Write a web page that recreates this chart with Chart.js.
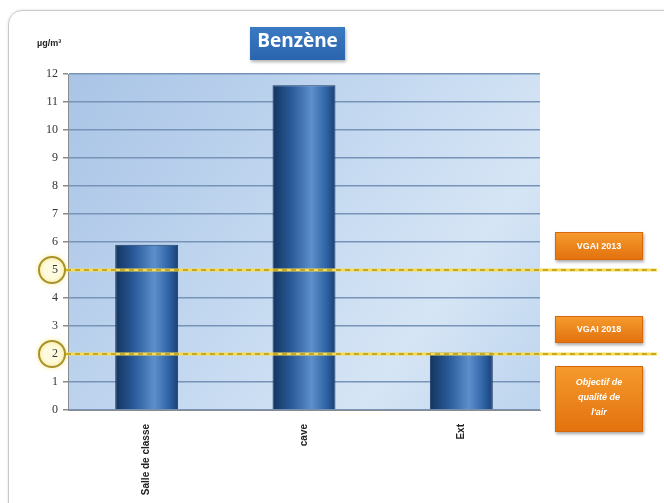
<!DOCTYPE html>
<html>
<head>
<meta charset="utf-8">
<script src="https://cdn.jsdelivr.net/npm/chart.js@4/dist/chart.umd.min.js"></script>
<style>
  html, body { margin: 0; padding: 0; background: #fff; }
  #wrap { position: relative; width: 664px; height: 503px; overflow: hidden; font-family: "Liberation Sans", Arial, sans-serif; }
  #card { position: absolute; left: 8px; top: 10px; width: 700px; height: 520px; border: 1px solid #c9c9c9; border-radius: 14px; box-shadow: 0 0 3px rgba(0,0,0,0.12); }
  #chart { position: absolute; left: 0; top: 0; }
  #title { position: absolute; left: 250px; top: 27px; width: 95px; height: 33px; line-height: 33px; text-align: center;
    color: #fff; font: bold 19px "Open Sans", "DejaVu Sans", sans-serif; background: linear-gradient(#3b7ac4, #2a64ad);
    box-shadow: 1px 2px 3px rgba(0,0,0,0.3); }
  #unit { position: absolute; left: 37px; top: 38px; font: bold 9px "Liberation Sans", Arial, sans-serif; color: #222; }
  .tag { position: absolute; left: 555px; width: 88px; color: #fff; text-align: center; font: bold 9px "Liberation Sans", Arial, sans-serif;
    background: linear-gradient(#f59a2c, #e3720f); box-shadow: 1px 2px 3px rgba(0,0,0,0.35); border: 1px solid #d8660a; box-sizing: border-box; }
</style>
</head>
<body>
<div id="wrap">
  <div id="card"></div>
  <canvas id="chart" width="664" height="503"></canvas>
  <div id="title">Benzène</div>
  <div id="unit">µg/m³</div>
  <div class="tag" style="top:232px;height:28px;line-height:26px;">VGAI 2013</div>
  <div class="tag" style="top:316px;height:27px;line-height:25px;">VGAI 2018</div>
  <div class="tag" style="top:366px;height:66px;padding-top:8px;line-height:15px;font-style:italic;">Objectif de<br>qualité de<br>l'air</div>
</div>
<script>
// ---- data ------------------------------------------------------------------
const categories = ["Salle de classe", "cave", "Ext"];
const benzene = [5.9, 11.6, 2.05];
const thresholds = [5, 2];
const yTicks = [0, 1, 2, 3, 4, 5, 6, 7, 8, 9, 10, 11, 12];

// plot area sky background
const skyPlugin = {
  id: "sky",
  beforeDraw(chart) {
    const { ctx, chartArea: a } = chart;
    const g = ctx.createLinearGradient(a.left, a.top, a.right, a.bottom);
    g.addColorStop(0, "#a9c4e6");
    g.addColorStop(0.45, "#c3d8f0");
    g.addColorStop(0.75, "#d6e5f5");
    g.addColorStop(1, "#bcd4ee");
    ctx.save();
    ctx.fillStyle = g;
    ctx.fillRect(a.left, a.top, a.right - a.left, a.bottom - a.top);
    ctx.restore();
  },
};

// threshold lines + circled tick labels
const thresholdPlugin = {
  id: "thresholds",
  afterDraw(chart) {
    const { ctx } = chart;
    const y = chart.scales.y;
    ctx.save();
    thresholds.forEach(v => {
      const py = y.getPixelForValue(v);
      ctx.lineWidth = 3;
      ctx.strokeStyle = "#f2dc5a";
      ctx.setLineDash([]);
      ctx.beginPath(); ctx.moveTo(40, py); ctx.lineTo(657, py); ctx.stroke();
      ctx.lineWidth = 2;
      ctx.strokeStyle = "#c9a820";
      ctx.setLineDash([5, 4]);
      ctx.beginPath(); ctx.moveTo(66, py); ctx.lineTo(657, py); ctx.stroke();
      ctx.setLineDash([]);
      // circle with the tick label redrawn on top
      ctx.fillStyle = "#fffbe0";
      ctx.beginPath(); ctx.arc(52, py, 12, 0, Math.PI * 2); ctx.fill();
      ctx.lineWidth = 2;
      ctx.strokeStyle = "#a8922a";
      ctx.shadowColor = "rgba(240,220,80,0.8)";
      ctx.shadowBlur = 4;
      ctx.beginPath(); ctx.arc(52, py, 13, 0, Math.PI * 2); ctx.stroke();
      ctx.shadowBlur = 0;
      ctx.fillStyle = "#333";
      ctx.font = "12px 'Liberation Serif'";
      ctx.textAlign = "right";
      ctx.textBaseline = "middle";
      ctx.fillText(String(v), 58, py);
    });
    ctx.restore();
  },
};

function barFill(context) {
  const chart = context.chart;
  const a = chart.chartArea;
  if (!a) return "#2e5d9a";
  const x = chart.scales.x.getPixelForValue(context.dataIndex);
  const w = (a.right - a.left) / categories.length * 0.4;
  const g = chart.ctx.createLinearGradient(x - w / 2, 0, x + w / 2, 0);
  g.addColorStop(0, "#13345f");
  g.addColorStop(0.3, "#2a5a99");
  g.addColorStop(0.62, "#5d8fcc");
  g.addColorStop(0.85, "#2f64a6");
  g.addColorStop(1, "#1a4074");
  return g;
}

new Chart(document.getElementById("chart"), {
  type: "bar",
  data: {
    labels: categories,
    datasets: [{
      label: "Benzène",
      data: benzene,
      backgroundColor: barFill,
      borderColor: "#1b3a66",
      borderWidth: 1,
      barPercentage: 0.4,
      categoryPercentage: 1,
    }],
  },
  options: {
    responsive: false,
    animation: false,
    layout: { padding: { left: 28, top: 74, right: 124, bottom: 0 } },
    plugins: { legend: { display: false }, tooltip: { enabled: false } },
    scales: {
      x: {
        afterFit: (s) => { s.height = 93; },
        grid: { display: false, drawTicks: true },
        border: { color: "#8a8a8a" },
        ticks: { color: "#222", maxRotation: 90, minRotation: 90, font: { family: "Liberation Sans", size: 10, weight: "bold" }, padding: 6 },
      },
      y: {
        min: 0, max: 12,
        afterFit: (s) => { s.width = 40; },
        afterBuildTicks: (s) => { s.ticks = yTicks.map(v => ({ value: v })); },
        grid: { color: "#7893b8", lineWidth: 1.5, tickLength: 5, tickColor: "#8a8a8a" },
        border: { color: "#8a8a8a" },
        ticks: { color: "#333", font: { family: "Liberation Serif", size: 12 }, padding: 5 },
      },
    },
  },
  plugins: [skyPlugin, thresholdPlugin],
});
</script>
</body>
</html>
